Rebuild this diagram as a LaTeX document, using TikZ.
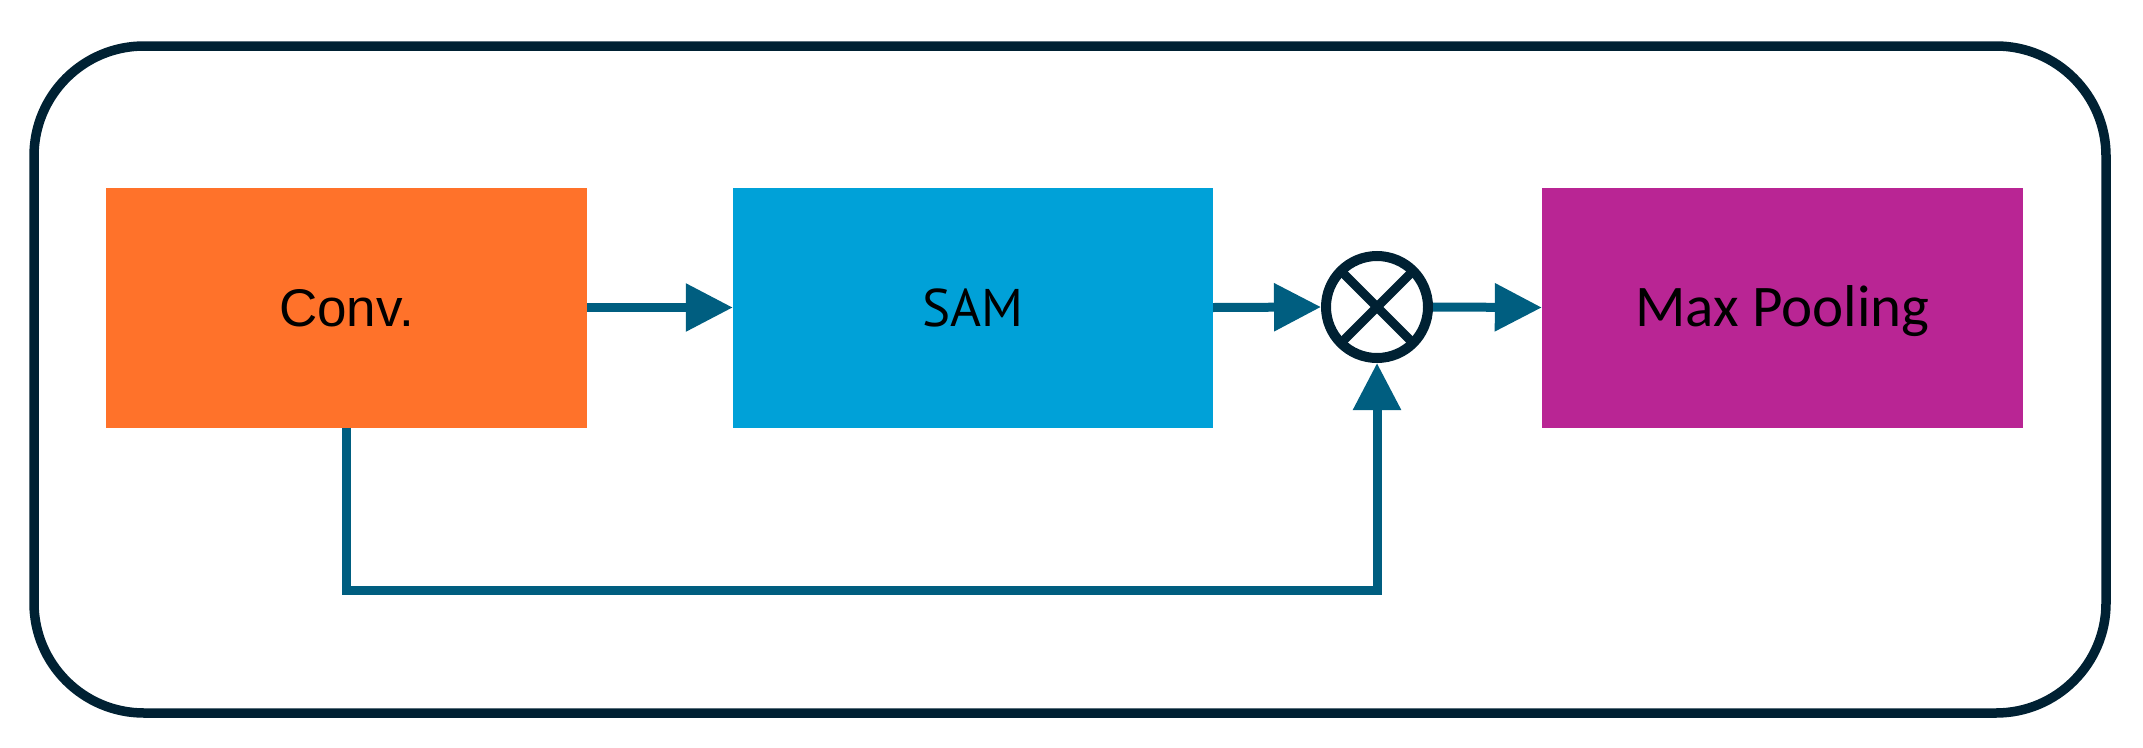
\documentclass[tikz,border=0pt]{standalone}
\usepackage{fontspec}
\usetikzlibrary{arrows.meta}
\newfontfamily\convfont{Liberation Sans}
\newfontfamily\samfont{PT Sans}
\newfontfamily\mpfont{Carlito}
\definecolor{cOrange}{HTML}{FF722A}
\definecolor{cBlue}{HTML}{00A1D8}
\definecolor{cMagenta}{HTML}{B92594}
\definecolor{cDark}{HTML}{002133}
\definecolor{cTeal}{HTML}{005E80}
\begin{document}
\begin{tikzpicture}[x=1pt,y=-1pt,
  block/.style={rectangle, draw=none, inner sep=0pt, minimum width=481pt, minimum height=240pt, text height=38pt, text depth=0pt},
  conn/.style={draw=cTeal, line width=9pt, -{Triangle[length=47pt,width=46pt]}},
  mult/.style={circle, draw=cDark, line width=10pt, inner sep=0pt, minimum size=102pt}
]
\useasboundingbox (0,0) rectangle (2143,747);
\draw[cDark, line width=9.5pt, rounded corners=110pt] (34,46) rectangle (2106,713);

\node[block, fill=cOrange, font=\convfont\fontsize{53}{60}\selectfont] (conv) at (346.5,307.5) {Conv.};
\node[block, fill=cBlue, minimum width=480pt, font=\samfont\fontsize{53}{60}\selectfont] (sam) at (973,307.5) {SAM};
\node[block, fill=cMagenta, font=\mpfont\fontsize{59}{66}\selectfont] (mp) at (1782.5,307.5) {Max Pooling};
\node[mult] (x) at (1377,307) {};
\draw[cDark, line width=9pt] ([shift={(45:47)}]x.center) -- ([shift={(225:47)}]x.center);
\draw[cDark, line width=9pt] ([shift={(135:47)}]x.center) -- ([shift={(315:47)}]x.center);

\draw[conn] (conv.east) -- (sam.west);
\draw[conn] (sam.east) -- (x.west);
\draw[conn] (x.east) -- (mp.west);
\coordinate (c1) at (346,590);
\coordinate (c2) at (1377,590);
\draw[conn, line join=miter] (conv.south -| c1) -- (c1) -- (c2) -- (x.south);
\end{tikzpicture}
\end{document}
